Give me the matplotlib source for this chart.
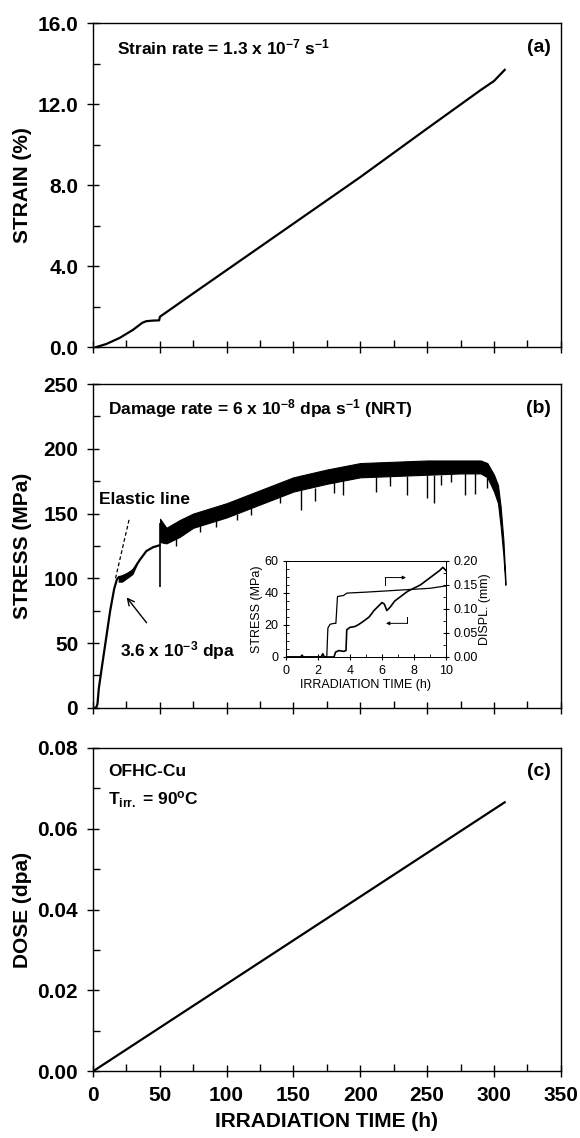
import matplotlib
matplotlib.use('Agg')
import matplotlib.pyplot as plt
from matplotlib.ticker import MultipleLocator, FormatStrFormatter

# ---------------- data ----------------
# (a) strain vs irradiation time
strain_t = [2.5, 10, 20, 30, 37, 40, 45, 49.6, 50.2, 75, 100, 150, 200, 250, 290, 300, 308]
strain_v = [0.0, 0.15, 0.45, 0.85, 1.2, 1.28, 1.31, 1.32, 1.5, 2.65, 3.8, 6.1, 8.4, 10.8, 12.7, 13.15, 13.7]

# (b) stress vs irradiation time: early smooth part
stress_t = [0, 2.5, 3.5, 4.5, 7, 10, 13, 16, 18, 19.5, 22, 26, 30, 35, 40, 45, 49.8]
stress_v = [0, 0, 3, 15, 33, 54, 75, 92, 99, 101, 101, 103, 106, 114, 121, 124, 125.5]
# noisy band around the yield region
band1_t = [19, 22, 26, 30, 33]
band1_lo = [97, 97, 100, 103, 110]
band1_hi = [102, 103, 105, 108, 113]
# drop spike at 50 h (reload)
reload_t = 50
reload_lo, reload_hi = 93, 143
# noisy band after 50 h (lower / upper envelope)
band2_t = [50.3, 55, 65, 75, 100, 125, 150, 175, 200, 225, 250, 275, 290, 295, 300, 303, 305, 307, 308.5]
band2_lo = [128, 127, 132, 139, 147, 157, 167, 173, 178, 179, 180, 181, 181, 178, 167, 158, 140, 118, 95]
band2_hi = [146, 139, 145, 150, 158, 168, 178, 184, 189, 190, 191, 191, 191, 189, 180, 172, 155, 130, 100]
# downward spikes out of the band (time, lowest stress, band bottom)
spike_t = [62, 80, 92, 108, 118, 140, 156, 166, 180, 187, 212, 222, 235, 250, 255, 260, 268, 278, 286, 295]
spike_lo = [125, 136, 140, 145, 149, 158, 153, 160, 166, 164, 167, 171, 164, 162, 158, 172, 174, 164, 165, 170]
spike_hi = [131, 141, 145, 150, 154, 163, 168, 170, 174, 176, 178, 179, 179, 180, 180, 180, 181, 181, 181, 178]
# elastic line
elastic_t = [17, 27.5]
elastic_v = [100, 147]

# inset: first 10 h
ins_stress_t = [0, 0.9, 1.0, 1.1, 2.2, 2.3, 2.4, 3.0, 3.1, 3.3, 3.6, 3.75, 3.8, 4.0, 4.3, 4.5, 4.8,
                5.2, 5.5, 5.8, 6.0, 6.15, 6.3, 6.5, 6.8, 7.2, 7.6, 8.0, 8.4, 8.8, 9.2, 9.6, 9.8, 10.0]
ins_stress_v = [0, 0, 1, 0, 0, 2, 0, 0, 3, 4, 3.5, 4, 17, 18.5, 19, 20, 22,
                25, 29, 32, 34, 33, 29, 31, 35, 38, 41, 43, 45, 48, 51, 54, 56, 54]
ins_displ_t = [0, 2.55, 2.62, 2.75, 3.0, 3.12, 3.22, 3.6, 3.8, 5.0, 7.0, 9.0, 10.0]
ins_displ_v = [0, 0, 0.06, 0.068, 0.07, 0.07, 0.126, 0.128, 0.133, 0.135, 0.139, 0.143, 0.148]

# (c) dose vs irradiation time
dose_t = [0, 308]
dose_v = [0.0, 0.0665]

xticks = [0, 50, 100, 150, 200, 250, 300, 350]

# ---------------- styling ----------------
plt.rcParams['font.family'] = ['Liberation Sans', 'DejaVu Sans']
plt.rcParams['font.weight'] = 'bold'
plt.rcParams['mathtext.fontset'] = 'custom'
plt.rcParams['mathtext.rm'] = 'Liberation Sans:bold'
plt.rcParams['mathtext.it'] = 'Liberation Sans:bold'
plt.rcParams['mathtext.bf'] = 'Liberation Sans:bold'
plt.rcParams['axes.linewidth'] = 1.0

fig = plt.figure(figsize=(5.8, 11.38), dpi=100)
L, W, H = 0.160, 0.807, 0.2845
axa = fig.add_axes([L, 0.695, W, H])
axb = fig.add_axes([L, 0.378, W, H])
axc = fig.add_axes([L, 0.0585, W, H])

FS = 15


def style(ax, ymax, ymaj, ymin, fmt, ylabel, xlabels=False):
    ax.set_xlim(0, 350)
    ax.set_ylim(0, ymax)
    ax.set_xticks(xticks)
    ax.xaxis.set_minor_locator(MultipleLocator(25))
    ax.yaxis.set_major_locator(MultipleLocator(ymaj))
    ax.yaxis.set_minor_locator(MultipleLocator(ymin))
    ax.yaxis.set_major_formatter(FormatStrFormatter(fmt))
    ax.tick_params(which='major', direction='inout', length=9, width=1.0,
                   labelsize=FS, pad=6)
    ax.tick_params(which='minor', direction='in', length=5, width=1.0)
    if not xlabels:
        ax.tick_params(axis='x', labelbottom=False)
    ax.set_ylabel(ylabel, fontsize=FS, fontweight='bold')
    ax.yaxis.set_label_coords(-0.13, 0.5)


style(axa, 16, 4, 2, '%.1f', 'STRAIN (%)')
style(axb, 250, 50, 25, '%d', 'STRESS (MPa)')
style(axc, 0.08, 0.02, 0.01, '%.2f', 'DOSE (dpa)', xlabels=True)
axc.set_xlabel('IRRADIATION TIME (h)', fontsize=FS, fontweight='bold', labelpad=5)

# (a)
axa.plot(strain_t, strain_v, color='black', lw=1.6)
axa.text(0.052, 0.925, r'Strain rate = 1.3 x 10$^{-7}$ s$^{-1}$', transform=axa.transAxes,
         fontsize=12.5, ha='left', va='center')
axa.text(0.978, 0.925, '(a)', transform=axa.transAxes, fontsize=14, ha='right', va='center')

# (b)
axb.plot(stress_t, stress_v, color='black', lw=1.6)
axb.fill_between(band1_t, band1_lo, band1_hi, color='black', lw=0)
axb.vlines(reload_t, reload_lo, reload_hi, color='black', lw=1.2)
axb.fill_between(band2_t, band2_lo, band2_hi, color='black', lw=0.8, edgecolor='black')
axb.vlines(spike_t, spike_lo, spike_hi, color='black', lw=1.0)
axb.plot(elastic_t, elastic_v, color='black', lw=0.9, ls=(0, (3, 2)))
axb.text(0.032, 0.925, r'Damage rate = 6 x 10$^{-8}$ dpa s$^{-1}$ (NRT)', transform=axb.transAxes,
         fontsize=12.5, ha='left', va='center')
axb.text(0.978, 0.925, '(b)', transform=axb.transAxes, fontsize=14, ha='right', va='center')
axb.text(5, 161, 'Elastic line', fontsize=12.5, ha='left', va='center')
axb.annotate('', xy=(24, 87), xytext=(41.5, 64),
             arrowprops=dict(arrowstyle='->', lw=1.0, color='black', mutation_scale=12))
axb.text(20, 44, r'3.6 x 10$^{-3}$ dpa', fontsize=12.5, ha='left', va='center')

# inset
axi = fig.add_axes([0.493, 0.4227, 0.276, 0.0844])
axi.plot(ins_stress_t, ins_stress_v, color='black', lw=1.2)
axi.set_xlim(0, 10)
axi.set_ylim(0, 60)
axi.set_xticks([0, 2, 4, 6, 8, 10])
axi.xaxis.set_minor_locator(MultipleLocator(1))
axi.set_yticks([0, 20, 40, 60])
axi.yaxis.set_minor_locator(MultipleLocator(5))
axi.tick_params(which='major', direction='inout', length=5, width=0.8, labelsize=9, pad=3)
axi.tick_params(which='minor', direction='in', length=2.5, width=0.6)
for s in axi.spines.values():
    s.set_linewidth(0.7)
axi.set_xlabel('IRRADIATION TIME (h)', fontsize=9, fontweight='normal', labelpad=2)
axi.set_ylabel('STRESS (MPa)', fontsize=9, fontweight='normal', labelpad=1)
for lab in axi.get_xticklabels() + axi.get_yticklabels():
    lab.set_fontweight('normal')

axr = axi.twinx()
axr.plot(ins_displ_t, ins_displ_v, color='black', lw=0.9)
axr.set_ylim(0, 0.2)
axr.set_yticks([0, 0.05, 0.10, 0.15, 0.20])
axr.yaxis.set_major_formatter(FormatStrFormatter('%.2f'))
axr.yaxis.set_minor_locator(MultipleLocator(0.025))
axr.tick_params(which='major', direction='inout', length=5, width=0.8, labelsize=9, pad=3)
axr.tick_params(which='minor', direction='in', length=2.5, width=0.6)
axr.set_ylabel('DISPL. (mm)', fontsize=9, fontweight='normal', labelpad=1)
for lab in axr.get_yticklabels():
    lab.set_fontweight('normal')
for s in axr.spines.values():
    s.set_linewidth(0.7)
# bracket arrows indicating the axis of each curve
axi.plot([6.2, 6.2], [45, 49.6], color='black', lw=0.7)
axi.annotate('', xy=(7.5, 49.6), xytext=(6.2, 49.6),
             arrowprops=dict(arrowstyle='-|>', lw=0.7, color='black', mutation_scale=5,
                             shrinkA=0, shrinkB=0))
axi.plot([7.55, 7.55], [21, 25], color='black', lw=0.7)
axi.annotate('', xy=(6.25, 21), xytext=(7.55, 21),
             arrowprops=dict(arrowstyle='-|>', lw=0.7, color='black', mutation_scale=5,
                             shrinkA=0, shrinkB=0))

# (c)
axc.plot(dose_t, dose_v, color='black', lw=1.6)
axc.text(0.032, 0.925, 'OFHC-Cu', transform=axc.transAxes, fontsize=12.5, ha='left', va='center')
axc.text(0.032, 0.84, r'T$_{\mathrm{irr.}}$ = 90$^{\mathrm{o}}$C', transform=axc.transAxes,
         fontsize=12.5, ha='left', va='center')
axc.text(0.978, 0.925, '(c)', transform=axc.transAxes, fontsize=14, ha='right', va='center')

fig.savefig('out.png', dpi=100)
